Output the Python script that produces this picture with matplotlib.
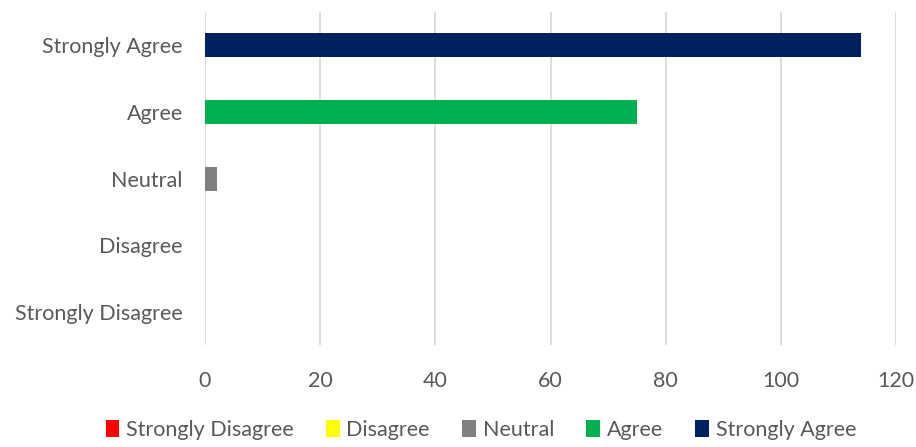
import matplotlib
matplotlib.use("Agg")
import matplotlib.pyplot as plt
from matplotlib.patches import Patch

categories = ["Strongly Disagree", "Disagree", "Neutral", "Agree", "Strongly Agree"]
counts = [0, 0, 2, 75, 114]
colors = ["#FF0000", "#FFFF00", "#808080", "#00B050", "#002060"]
x_ticks = [0, 20, 40, 60, 80, 100, 120]

plt.rcParams['font.family'] = ['Lato', 'DejaVu Sans']
text_color = "#595959"

fig = plt.figure(figsize=(9.16, 4.47), dpi=100)
ax = fig.add_axes([0.2238, 0.228, 0.7544, 0.745])

ax.barh(range(len(categories)), counts, height=0.36, color=colors, zorder=3)

ax.set_xlim(0, 120)
ax.set_ylim(-0.5, len(categories) - 0.5)
ax.set_xticks(x_ticks)
ax.set_yticks(range(len(categories)))
ax.set_yticklabels(categories)
ax.grid(axis="x", color="#D9D9D9", linewidth=1.3, zorder=0)
ax.tick_params(axis="both", length=0, labelsize=15.5, labelcolor=text_color)
ax.tick_params(axis="x", pad=19)
ax.tick_params(axis="y", pad=16)
for s in ax.spines.values():
    s.set_visible(False)

handles = [Patch(facecolor=c, edgecolor="none") for c in colors]
fig.legend(handles, categories, loc="center", bbox_to_anchor=(0.525, 0.038), ncol=5,
           frameon=False, fontsize=15.5, labelcolor=text_color,
           handlelength=0.65, handleheight=0.85, handletextpad=0.3, columnspacing=1.5)

fig.savefig("out.png", dpi=100)
